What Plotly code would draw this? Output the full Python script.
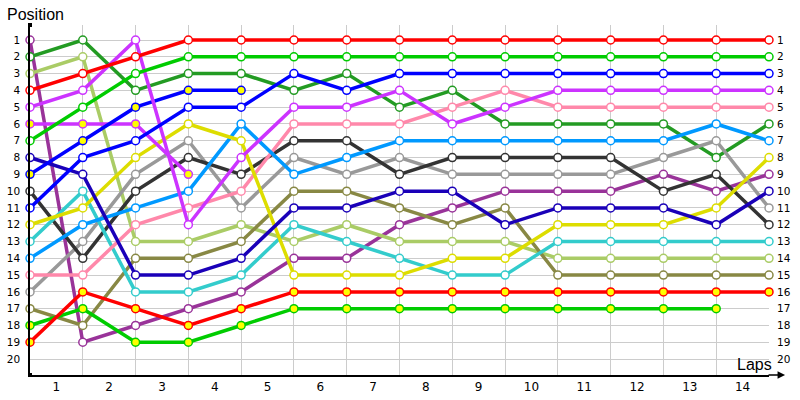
from plotly.graph_objects import Scatter, Figure

laps = list(range(15))
lap_labels = [str(i) for i in range(1, 15)]
positions = list(range(1, 21))

# position of each driver after every lap (lap 0 = grid), shorter list = retired
purple = [1, 19, 18, 17, 16, 14, 14, 12, 11, 10, 10, 10, 9, 10, 9]
dark_green = [2, 1, 4, 3, 3, 4, 3, 5, 4, 6, 6, 6, 6, 8, 6]
light_green = [3, 2, 13, 13, 12, 13, 12, 13, 13, 13, 14, 14, 14, 14, 14]
red = [4, 3, 2, 1, 1, 1, 1, 1, 1, 1, 1, 1, 1, 1, 1]
magenta = [5, 4, 1, 12, 8, 5, 5, 4, 6, 5, 4, 4, 4, 4, 4]
magenta_b = [6, 6, 6, 9]
green = [7, 5, 3, 2, 2, 2, 2, 2, 2, 2, 2, 2, 2, 2, 2]
navy = [8, 9, 15, 15, 14, 11, 11, 10, 10, 12, 11, 11, 11, 12, 10]
blue_b = [9, 7, 5, 4, 4]
black = [10, 14, 10, 8, 9, 7, 7, 9, 8, 8, 8, 8, 10, 9, 12]
blue = [11, 8, 7, 5, 5, 3, 4, 3, 3, 3, 3, 3, 3, 3, 3]
yellow = [12, 11, 8, 6, 7, 15, 15, 15, 14, 14, 12, 12, 12, 11, 8]
teal = [13, 10, 16, 16, 15, 12, 13, 14, 15, 15, 13, 13, 13, 13, 13]
sky = [14, 12, 11, 10, 6, 9, 8, 7, 7, 7, 7, 7, 7, 6, 7]
pink = [15, 15, 12, 11, 10, 6, 6, 6, 5, 4, 5, 5, 5, 5, 5]
gray = [16, 13, 9, 7, 11, 8, 9, 8, 9, 9, 9, 9, 8, 7, 11]
olive = [17, 18, 14, 14, 13, 10, 10, 11, 12, 11, 15, 15, 15, 15, 15]
green_b = [18, 17, 19, 19, 18, 17, 17, 17, 17, 17, 17, 17, 17, 17]
red_b = [19, 16, 17, 18, 17, 16, 16, 16, 16, 16, 16, 16, 16, 16, 16]

# (series, line colour, marker fill)
drivers = [
    (purple, "#993399", "white"),
    (dark_green, "#239b23", "white"),
    (light_green, "#aacc66", "white"),
    (olive, "#888844", "white"),
    (gray, "#999999", "white"),
    (black, "#333333", "white"),
    (teal, "#33cccc", "white"),
    (pink, "#ff88aa", "white"),
    (sky, "#0099ff", "white"),
    (yellow, "#dddd00", "white"),
    (navy, "#1a00b8", "white"),
    (magenta_b, "#cc33ff", "#ffff00"),
    (blue_b, "#0000ff", "#ffff00"),
    (magenta, "#cc33ff", "white"),
    (blue, "#0000ff", "white"),
    (green_b, "#00cc00", "#ffff00"),
    (red_b, "#ff0000", "#ffff00"),
    (green, "#00cc00", "white"),
    (red, "#ff0000", "white"),
]

fig = Figure()

for series, color, fill in drivers:
    fig.add_trace(Scatter(
        x=laps[:len(series)],
        y=series,
        mode="lines+markers",
        line=dict(color=color, width=3.5),
        marker=dict(size=8, color=fill, line=dict(color=color, width=1.5)),
        cliponaxis=False,
        showlegend=False,
    ))

# invisible trace so the right hand axis gets drawn
fig.add_trace(Scatter(x=[0], y=[1], yaxis="y2", mode="markers",
                      marker=dict(opacity=0), showlegend=False, hoverinfo="skip"))

y_range = [20.95, 0.107]

fig.update_layout(
    width=800,
    height=400,
    margin=dict(l=30, r=31, t=25, b=25),
    plot_bgcolor="white",
    paper_bgcolor="white",
    font=dict(family="DejaVu Sans", color="black"),
    xaxis=dict(
        range=[0, 14],
        tickvals=[i - 0.5 for i in range(1, 15)],
        ticktext=lap_labels,
        ticks="",
        showgrid=False,
        zeroline=False,
        showline=True,
        linecolor="black",
        linewidth=1.5,
        automargin=False,
        tickfont=dict(size=12),
        minor=dict(tickmode="array", tickvals=laps[1:], showgrid=True,
                   gridcolor="#cccccc", gridwidth=1, ticks=""),
    ),
    yaxis=dict(
        range=y_range,
        tickvals=positions,
        ticktext=[str(p) for p in positions],
        ticks="",
        showgrid=True,
        gridcolor="#cccccc",
        gridwidth=1,
        zeroline=False,
        showline=True,
        linecolor="black",
        linewidth=1.5,
        automargin=False,
        tickfont=dict(size=10.5),
        ticklabelstandoff=6,
    ),
    yaxis2=dict(
        range=y_range,
        overlaying="y",
        side="right",
        anchor="x",
        tickvals=positions,
        ticktext=[str(p) for p in positions],
        ticks="",
        showgrid=False,
        zeroline=False,
        showline=False,
        automargin=False,
        tickfont=dict(size=10.5),
        ticklabelstandoff=7,
    ),
)

# axis titles
fig.add_annotation(text="Position", xref="paper", yref="paper", x=-0.034, y=1.029,
                   xanchor="left", yanchor="middle", showarrow=False,
                   font=dict(family="Liberation Sans", size=16))
fig.add_annotation(text="Laps", xref="paper", yref="paper", x=1.007, y=0.031,
                   xanchor="right", yanchor="middle", showarrow=False,
                   font=dict(family="Liberation Sans", size=16))

# arrow at end of x axis
fig.add_annotation(text="", xref="paper", yref="paper", x=1.0217, y=0,
                   ax=-18, ay=0, showarrow=True, arrowhead=2, arrowsize=1,
                   arrowwidth=1.5, arrowcolor="black")

# small dots at axis ends
for yy in [0, 1]:
    fig.add_shape(type="rect", xref="paper", yref="paper",
                  xsizemode="pixel", ysizemode="pixel", xanchor=0, yanchor=yy,
                  x0=-2, x1=2, y0=-2, y1=2, fillcolor="black", line_width=0)

# page body has a default margin, drop it so the figure fills the window
fig.write_html("out.html", config={"displayModeBar": False},
               post_script="document.body.style.margin='0';")
